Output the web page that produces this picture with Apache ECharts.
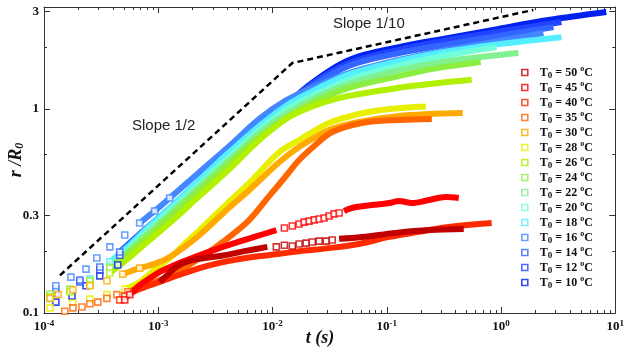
<!DOCTYPE html>
<html>
<head>
<meta charset="utf-8">
<script src="https://cdn.jsdelivr.net/npm/echarts@6/dist/echarts.min.js"></script>
<style>
  html, body { margin: 0; padding: 0; background: #fff; }
  #main { width: 627px; height: 356px; }
</style>
</head>
<body>
<div id="main"></div>
<script>
const dom = document.getElementById('main');

// legend order, top to bottom
const temps = [50, 45, 40, 35, 30, 28, 26, 24, 22, 20, 18, 16, 14, 12, 10];
const colors = ['#c00000', '#ff0000', '#ff2a00', '#ff6600', '#ffaa00', '#e8f000', '#b0f000',
  '#8cee40', '#80f090', '#70ffd8', '#55eeff', '#4488ff', '#3366ff', '#2244ff', '#0022ee'];

// [t (s), r/R0] -- "dots" are the separate squares, "band" the dense runs
const dots10 = [[1.27e-4, 0.113], [1.76e-4, 0.121], [2.33e-4, 0.136], [3.08e-4, 0.152], [4.42e-4, 0.172]];
const band10 = [[4.42e-4, 0.172], [6.88e-4, 0.220], [1.03e-3, 0.279], [1.54e-3, 0.346], [2.30e-3, 0.424],
  [4.20e-3, 0.575], [7.67e-3, 0.789], [1.27e-2, 1.01], [2.09e-2, 1.31], [4.68e-2, 1.74], [0.128, 2.01],
  [0.349, 2.23], [0.953, 2.47], [2.60, 2.73], [8.35, 2.99]];

const dots12 = [[1.27e-4, 0.125], [2.06e-4, 0.142], [3.08e-4, 0.163], [4.60e-4, 0.192]];
const band12 = [[4.60e-4, 0.192], [6.88e-4, 0.236], [1.03e-3, 0.289], [1.54e-3, 0.354], [2.30e-3, 0.434],
  [4.20e-3, 0.588], [7.67e-3, 0.807], [1.27e-2, 1.03], [2.09e-2, 1.30], [4.68e-2, 1.68], [0.128, 1.95],
  [0.349, 2.18], [0.953, 2.39], [3.38, 2.67]];

const dots14 = [[1.27e-4, 0.130], [2.06e-4, 0.145], [3.08e-4, 0.168], [4.60e-4, 0.199]];
const band14 = [[4.60e-4, 0.199], [6.88e-4, 0.244], [1.03e-3, 0.296], [1.54e-3, 0.362], [2.30e-3, 0.444],
  [4.20e-3, 0.602], [7.67e-3, 0.816], [1.27e-2, 1.03], [2.09e-2, 1.27], [4.68e-2, 1.63], [0.128, 1.88],
  [0.349, 2.08], [0.953, 2.28], [2.88, 2.52]];

const dots16 = [[1.27e-4, 0.136], [1.72e-4, 0.150], [2.33e-4, 0.164], [2.90e-4, 0.186], [3.77e-4, 0.211],
  [5.09e-4, 0.241], [6.88e-4, 0.276], [9.30e-4, 0.316], [1.26e-3, 0.366]];
const band16 = [[6.88e-4, 0.276], [9.30e-4, 0.316], [1.26e-3, 0.366], [2.30e-3, 0.491], [4.20e-3, 0.659],
  [7.67e-3, 0.894], [1.27e-2, 1.09], [2.09e-2, 1.25], [4.68e-2, 1.50], [0.128, 1.74], [0.349, 1.95],
  [0.953, 2.15], [2.35, 2.36]];

const dots18 = [[1.13e-4, 0.118], [1.69e-4, 0.130], [2.52e-4, 0.147], [3.77e-4, 0.178]];
const band18 = [[3.77e-4, 0.178], [5.63e-4, 0.215], [8.41e-4, 0.267], [1.26e-3, 0.327], [2.30e-3, 0.449],
  [4.20e-3, 0.615], [7.67e-3, 0.825], [1.40e-2, 1.06], [2.56e-2, 1.27], [4.68e-2, 1.48], [0.128, 1.72],
  [0.349, 1.92], [0.953, 2.08], [3.38, 2.25]];

const dots20 = [[1.13e-4, 0.120], [1.69e-4, 0.128], [2.52e-4, 0.144], [3.77e-4, 0.172]];
const band20 = [[3.77e-4, 0.172], [5.63e-4, 0.208], [8.41e-4, 0.258], [1.26e-3, 0.316], [2.30e-3, 0.429],
  [4.20e-3, 0.582], [7.67e-3, 0.789], [1.40e-2, 1.01], [2.56e-2, 1.20], [4.68e-2, 1.39], [0.128, 1.63],
  [0.349, 1.84], [0.916, 2.01]];

const dots22 = [[1.13e-4, 0.121], [1.69e-4, 0.130], [2.52e-4, 0.142], [3.77e-4, 0.168]];
const band22 = [[3.77e-4, 0.168], [5.63e-4, 0.204], [8.41e-4, 0.250], [1.26e-3, 0.306], [2.30e-3, 0.415],
  [4.20e-3, 0.562], [7.67e-3, 0.763], [1.40e-2, 0.967], [2.56e-2, 1.16], [4.68e-2, 1.33], [0.128, 1.55],
  [0.349, 1.72], [1.42, 1.88]];

const dots24 = [[1.13e-4, 0.124], [1.69e-4, 0.131], [2.52e-4, 0.144], [3.77e-4, 0.166]];
const band24 = [[3.77e-4, 0.166], [5.63e-4, 0.199], [8.41e-4, 0.241], [1.26e-3, 0.296], [2.30e-3, 0.401],
  [4.20e-3, 0.544], [7.67e-3, 0.729], [1.40e-2, 0.924], [2.56e-2, 1.11], [4.68e-2, 1.27], [0.128, 1.45],
  [0.285, 1.59], [0.664, 1.70]];

const dots26 = [[1.13e-4, 0.120], [1.69e-4, 0.127], [2.52e-4, 0.137], [3.77e-4, 0.157]];
const band26 = [[3.77e-4, 0.157], [5.63e-4, 0.188], [8.41e-4, 0.228], [1.26e-3, 0.276], [2.30e-3, 0.375],
  [4.20e-3, 0.508], [7.67e-3, 0.705], [1.40e-2, 0.914], [2.56e-2, 1.06], [4.68e-2, 1.16], [0.128, 1.27],
  [0.285, 1.34], [0.554, 1.39]];

const dots28 = [[1.13e-4, 0.106], [1.79e-4, 0.112], [2.52e-4, 0.117], [3.55e-4, 0.123], [5.09e-4, 0.131]];
const band28 = [[5.09e-4, 0.131], [6.88e-4, 0.142], [9.30e-4, 0.163], [1.26e-3, 0.186], [1.70e-3, 0.218],
  [2.30e-3, 0.255], [3.80e-3, 0.334], [6.27e-3, 0.434], [1.15e-2, 0.615], [1.71e-2, 0.705], [3.13e-2, 0.854],
  [5.72e-2, 0.945], [0.105, 1.00], [0.220, 1.03]];

const dots30 = [[1.13e-4, 0.118], [1.33e-4, 0.123], [1.79e-4, 0.130], [2.52e-4, 0.136], [3.55e-4, 0.144],
  [4.89e-4, 0.155], [6.88e-4, 0.166]];
const band30 = [[4.89e-4, 0.155], [6.88e-4, 0.166], [9.30e-4, 0.174], [1.26e-3, 0.188], [1.70e-3, 0.211],
  [2.30e-3, 0.241], [3.80e-3, 0.313], [6.27e-3, 0.401], [1.15e-2, 0.550], [1.71e-2, 0.651], [3.13e-2, 0.789],
  [5.72e-2, 0.864], [0.128, 0.924], [0.234, 0.945], [0.462, 0.956]];

const dots35 = [[1.52e-4, 0.102], [1.79e-4, 0.106], [2.15e-4, 0.107], [2.52e-4, 0.111], [2.96e-4, 0.113],
  [3.55e-4, 0.118], [4.34e-4, 0.123], [5.41e-4, 0.127]];
const band35 = [[5.41e-4, 0.127], [6.88e-4, 0.133], [9.30e-4, 0.142], [1.26e-3, 0.152], [1.70e-3, 0.166],
  [2.30e-3, 0.186], [3.10e-3, 0.208], [4.20e-3, 0.236], [6.27e-3, 0.286], [9.38e-3, 0.375], [1.27e-2, 0.459],
  [1.71e-2, 0.562], [2.32e-2, 0.659], [3.33e-2, 0.771], [6.08e-2, 0.854], [0.128, 0.884], [0.248, 0.894]];

const dots40 = [[4.60e-4, 0.116], [5.09e-4, 0.121]];
const band40 = [[5.09e-4, 0.121], [6.88e-4, 0.131], [1.03e-3, 0.142], [1.54e-3, 0.154], [2.30e-3, 0.166],
  [3.44e-3, 0.176], [5.13e-3, 0.184], [7.67e-3, 0.190], [1.15e-2, 0.195], [1.71e-2, 0.201], [3.13e-2, 0.208],
  [5.72e-2, 0.218], [0.105, 0.236], [0.191, 0.250], [0.349, 0.264], [0.828, 0.276]];

const dots45a = [[5.09e-4, 0.116], [5.63e-4, 0.123]];
const band45a = [[5.63e-4, 0.123], [6.88e-4, 0.137], [8.41e-4, 0.148], [1.03e-3, 0.159], [1.39e-3, 0.172],
  [2.08e-3, 0.188], [3.10e-3, 0.204], [4.64e-3, 0.220], [6.94e-3, 0.236], [1.08e-2, 0.255]];
const dots45b = [[1.27e-2, 0.261], [1.49e-2, 0.267], [1.71e-2, 0.273], [1.89e-2, 0.279], [2.09e-2, 0.282],
  [2.32e-2, 0.286], [2.56e-2, 0.289], [2.83e-2, 0.292], [3.13e-2, 0.299], [3.46e-2, 0.306], [3.83e-2, 0.309]];
const band45b = [[4.23e-2, 0.316], [4.68e-2, 0.324], [5.38e-2, 0.331], [7.43e-2, 0.338], [0.105, 0.346],
  [0.128, 0.354], [0.166, 0.346], [0.234, 0.358], [0.329, 0.370], [0.427, 0.366]];

const band50a = [[1.03e-3, 0.142], [1.21e-3, 0.154], [1.48e-3, 0.170], [1.88e-3, 0.180], [2.54e-3, 0.186],
  [3.80e-3, 0.192], [5.68e-3, 0.201], [9.01e-3, 0.211]];
const dots50 = [[1.08e-2, 0.211], [1.27e-2, 0.215], [1.49e-2, 0.213], [1.71e-2, 0.218], [1.97e-2, 0.220],
  [2.23e-2, 0.223], [2.56e-2, 0.225], [2.95e-2, 0.225], [3.33e-2, 0.228]];
const band50b = [[3.83e-2, 0.231], [6.08e-2, 0.236], [0.120, 0.247], [0.234, 0.255], [0.472, 0.258]];

// dashed guide: slope 1/2 then slope 1/10
const slopeGuide = [[1.38e-4, 0.153], [1.49e-2, 1.68], [1.92, 3.06]];

// axes
const xTickExp = [-4, -3, -2, -1, 0, 1];
const yTicks = [0.1, 0.3, 1, 3];
const yMinorTicks = [0.2, 0.6, 2];

const dotSets = {
  50: [dots50], 45: [dots45a, dots45b], 40: [dots40], 35: [dots35], 30: [dots30], 28: [dots28],
  26: [dots26], 24: [dots24], 22: [dots22], 20: [dots20], 18: [dots18], 16: [dots16],
  14: [dots14], 12: [dots12], 10: [dots10]
};
const bandSets = {
  50: [band50a, band50b], 45: [band45a, band45b], 40: [band40], 35: [band35], 30: [band30], 28: [band28],
  26: [band26], 24: [band24], 22: [band22], 20: [band20], 18: [band18], 16: [band16],
  14: [band14], 12: [band12], 10: [band10]
};

const serif = '"Liberation Serif", "Times New Roman", serif';
const sans = '"Liberation Sans", Arial, sans-serif';
const frame = '#333';

function seriesName(T) {
  return T + ' °C';
}

function buildSeries() {
  const out = [];
  // warmest runs drawn last so they sit on top, like the original
  temps.slice().reverse().forEach((T) => {
    const c = colors[temps.indexOf(T)];
    const name = seriesName(T);
    dotSets[T].forEach((pts) => {
      out.push({
        name, type: 'scatter', data: pts, symbol: 'rect', symbolSize: 6, z: 4, silent: true,
        itemStyle: { color: '#fff', borderColor: c, borderWidth: 1.6 }
      });
    });
    bandSets[T].forEach((pts) => {
      out.push({
        name, type: 'line', data: pts, showSymbol: false, smooth: 0.35, z: 3, silent: true,
        lineStyle: { color: c, width: 6 }, itemStyle: { color: c }
      });
    });
  });
  out.push({
    name: 'guide', type: 'line', data: slopeGuide, showSymbol: false, z: 2, silent: true,
    lineStyle: { color: '#000', width: 2.5, type: [6, 4] }
  });
  return out;
}

const xMinor = [];
for (let d = -4; d < 1; d++) {
  for (let k = 2; k <= 9; k++) xMinor.push(d + Math.log10(k));
}
const yMajorLog = yTicks.map((v) => Math.log10(v));
const yMinorLog = yMinorTicks.map((v) => Math.log10(v));

function overlayX(position, ticks, len, labels) {
  return {
    type: 'value', gridIndex: 0, position, min: -4, max: 1,
    axisLine: { show: labels !== null || len > 4, onZero: false, lineStyle: { color: frame, width: 1 } },
    axisTick: { inside: true, length: len, customValues: ticks, lineStyle: { color: frame } },
    axisLabel: labels || { show: false },
    splitLine: { show: false }
  };
}

function overlayY(position, ticks, len, labels) {
  return {
    type: 'value', gridIndex: 0, position, min: -1, max: 0.5,
    axisLine: { show: labels !== null || len > 4, onZero: false, lineStyle: { color: frame, width: 1 } },
    axisTick: { inside: true, length: len, customValues: ticks, lineStyle: { color: frame } },
    axisLabel: labels || { show: false },
    splitLine: { show: false }
  };
}

function getChartOptions() {
  return {
    animation: false,
    backgroundColor: '#fff',
    grid: { left: 44, right: 10, top: 7, bottom: 43 },
    xAxis: [
      { type: 'log', logBase: 10, min: 1e-4, max: 10, show: false },
      overlayX('bottom', xTickExp, 6, {
        customValues: xTickExp, margin: 6,
        formatter: (v) => '{b|10}{e|' + Math.round(v) + '}',
        rich: {
          b: { fontFamily: serif, fontWeight: 'bold', fontSize: 13, color: '#111', lineHeight: 16 },
          e: { fontFamily: serif, fontWeight: 'bold', fontSize: 9, color: '#111', lineHeight: 9, verticalAlign: 'top' }
        }
      }),
      overlayX('bottom', xMinor, 3, null),
      overlayX('top', xTickExp, 6, null),
      overlayX('top', xMinor, 3, null)
    ],
    yAxis: [
      { type: 'log', logBase: 10, min: 0.1, max: 3.1623, show: false },
      overlayY('left', yMajorLog, 6, {
        customValues: yMajorLog, margin: 5,
        formatter: (v) => String(parseFloat(Math.pow(10, v).toPrecision(1))),
        fontFamily: serif, fontWeight: 'bold', fontSize: 13, color: '#111'
      }),
      overlayY('left', yMinorLog, 3, null),
      overlayY('right', yMajorLog, 6, null),
      overlayY('right', yMinorLog, 3, null)
    ],
    legend: {
      orient: 'vertical', left: 521, top: 65, padding: 0, itemGap: 0,
      itemWidth: 6, itemHeight: 6, selectedMode: false,
      data: temps.map((T, i) => ({
        name: seriesName(T), icon: 'rect',
        itemStyle: { color: '#fff', borderColor: colors[i], borderWidth: 1.6 }
      })),
      formatter: (n) => '{g|}{a|T}{s|0}{a| = ' + parseInt(n, 10) + ' }{o|o}{a|C}',
      textStyle: {
        rich: {
          g: { width: 7 },
          a: { fontFamily: serif, fontWeight: 'bold', fontSize: 12, color: '#111', lineHeight: 15 },
          s: { fontFamily: serif, fontWeight: 'bold', fontSize: 9, color: '#111', lineHeight: 5, verticalAlign: 'bottom' },
          o: { fontFamily: serif, fontWeight: 'bold', fontSize: 8, color: '#111', lineHeight: 8, verticalAlign: 'top' }
        }
      }
    },
    graphic: [
      {
        type: 'text', x: 320, y: 338, silent: true,
        style: { text: 't (s)', font: 'italic bold 18px ' + serif, fill: '#111', textAlign: 'center', textVerticalAlign: 'middle' }
      },
      {
        type: 'text', x: 16, y: 160, rotation: Math.PI / 2, silent: true,
        style: {
          text: '{a|r /R}{s|0}', textAlign: 'center', textVerticalAlign: 'middle',
          rich: {
            a: { font: 'italic bold 18px ' + serif, fill: '#111', lineHeight: 20 },
            s: { font: 'italic bold 12px ' + serif, fill: '#111', lineHeight: 8, verticalAlign: 'bottom' }
          }
        }
      },
      {
        type: 'text', x: 132, y: 126, silent: true,
        style: { text: 'Slope 1/2', font: '15px ' + sans, fill: '#222', textVerticalAlign: 'middle' }
      },
      {
        type: 'text', x: 333, y: 24, silent: true,
        style: { text: 'Slope 1/10', font: '15px ' + sans, fill: '#222', textVerticalAlign: 'middle' }
      }
    ],
    series: buildSeries()
  };
}

const myChart = echarts.init(dom);
myChart.setOption(getChartOptions());
</script>
</body>
</html>
